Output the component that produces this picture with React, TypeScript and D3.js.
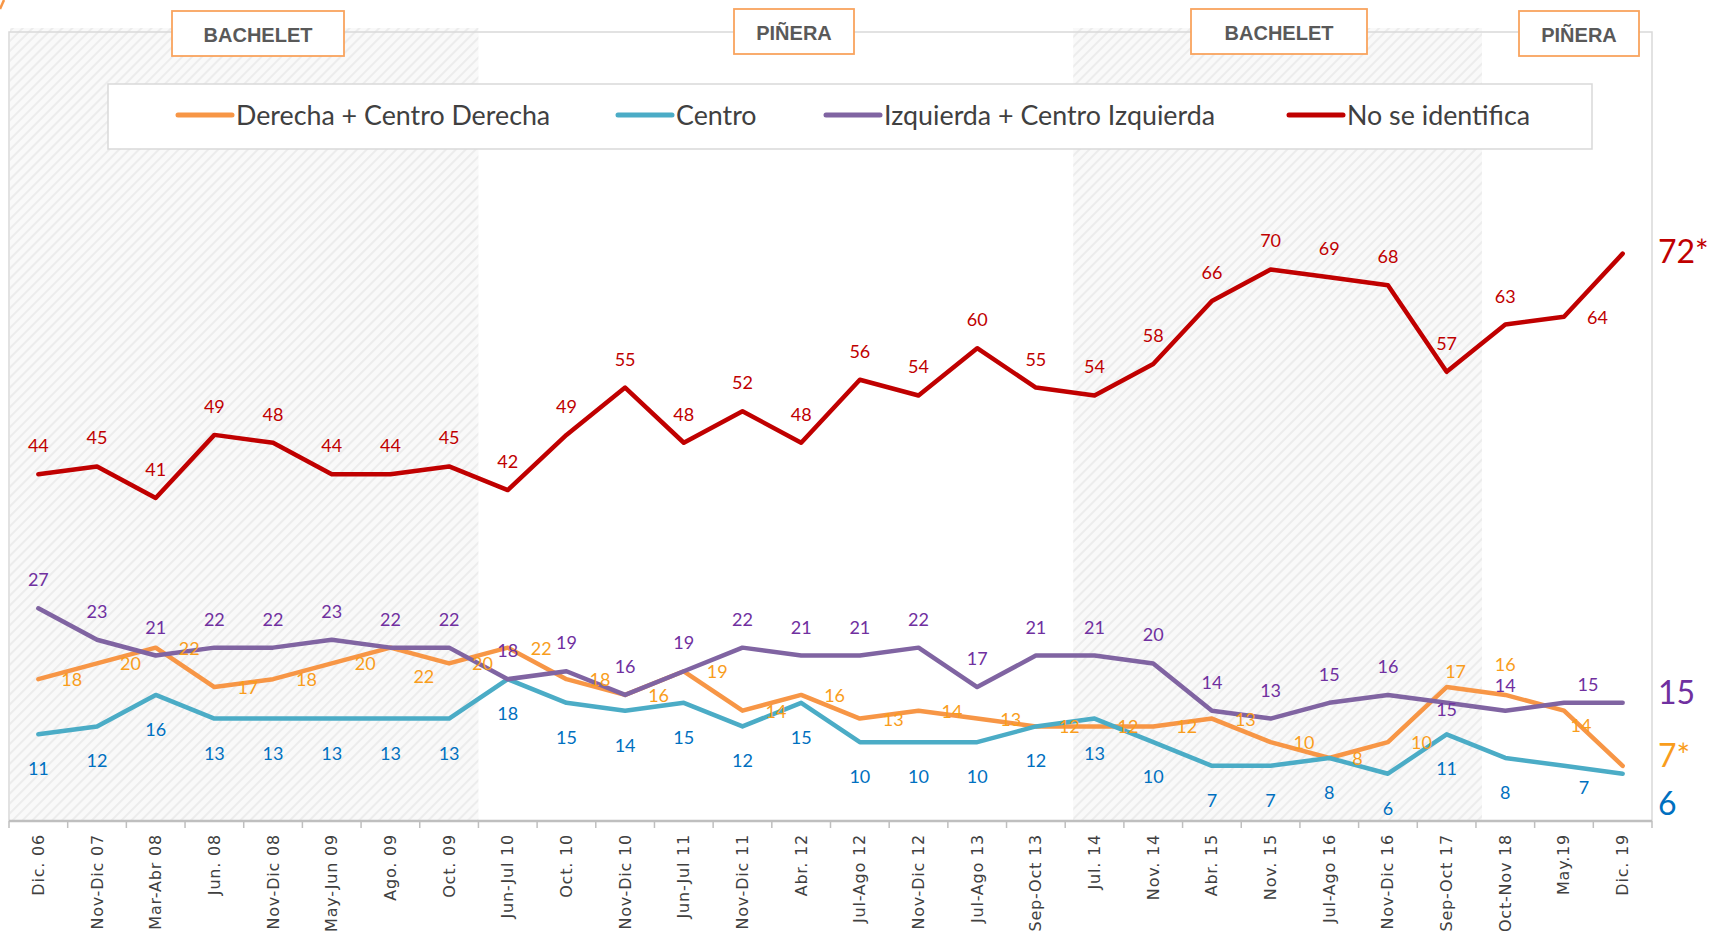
import React from 'react';
import * as d3 from 'd3';

const categories = [
  'Dic. 06', 'Nov-Dic 07', 'Mar-Abr 08', 'Jun. 08', 'Nov-Dic 08', 'May-Jun 09', 'Ago. 09', 'Oct. 09',
  'Jun-Jul 10', 'Oct. 10', 'Nov-Dic 10', 'Jun-Jul 11', 'Nov-Dic 11', 'Abr. 12', 'Jul-Ago 12', 'Nov-Dic 12',
  'Jul-Ago 13', 'Sep-Oct 13', 'Jul. 14', 'Nov. 14', 'Abr. 15', 'Nov. 15', 'Jul-Ago 16', 'Nov-Dic 16',
  'Sep-Oct 17', 'Oct-Nov 18', 'May.19', 'Dic. 19',
];

const derecha = [18, 20, 22, 17, 18, 20, 22, 20, 22, 18, 16, 19, 14, 16, 13, 14, 13, 12, 12, 12, 13, 10, 8, 10, 17, 16, 14, 7];
const centro = [11, 12, 16, 13, 13, 13, 13, 13, 18, 15, 14, 15, 12, 15, 10, 10, 10, 12, 13, 10, 7, 7, 8, 6, 11, 8, 7, 6];
const izquierda = [27, 23, 21, 22, 22, 23, 22, 22, 18, 19, 16, 19, 22, 21, 21, 22, 17, 21, 21, 20, 14, 13, 15, 16, 15, 14, 15, 15];
const noIdentifica = [44, 45, 41, 49, 48, 44, 44, 45, 42, 49, 55, 48, 52, 48, 56, 54, 60, 55, 54, 58, 66, 70, 69, 68, 57, 63, 64, 72];

const seriesNames = ['Derecha + Centro Derecha', 'Centro', 'Izquierda + Centro Izquierda', 'No se identifica'];
const endLabels = ['7*', '6', '15', '72*'];

// label placement codes per point ('x' = none, last point uses the end label)
const derechaPos = ['r','r','r','r','r','r','rb','r','r','r','r','r','r','r','r','r','r','r','r','r','r','r','r','r','nne','a2','se','x'];
const centroPos = ['b','b','b','b','b','b','b','b','b','b','b','b','b','b','b','b','b','b','b','b','b','b','b','b','b','b','se2','x'];
const izquierdaPos = ['a','a','a','a','a','a','a','a','a','a','a','a','a','a','a','a','a','a','a','a','a','a','a','a','c','a3','ne','x'];
const noIdentificaPos = ['a','a','a','a','a','a','a','a','a','a','a','a','a','a','a','a','a','a','a','a','a','a','a','a','a','a','r','x'];

const periodLabels = ['BACHELET', 'PIÑERA', 'BACHELET', 'PIÑERA'];

const W = 1713;
const H = 933;
const X0 = 9;
const X1 = 1652;
const YTOP = 33;
const YBOT = 821;

const lineColors = ['#F79646', '#4BACC6', '#8064A2', '#C00000'];
const labelColors = ['#F99D1C', '#0070C0', '#7030A0', '#C00000'];
const labelFont = "Lato, 'Open Sans', sans-serif";

const placements: Record<string, { dx: number; dy: number; anchor: string }> = {
  a: { dx: 0, dy: -29, anchor: 'middle' },
  a2: { dx: 0, dy: -31, anchor: 'middle' },
  a3: { dx: 0, dy: -26, anchor: 'middle' },
  b: { dx: 0, dy: 34, anchor: 'middle' },
  r: { dx: 23, dy: 0, anchor: 'start' },
  rb: { dx: 23, dy: 28, anchor: 'start' },
  c: { dx: 0, dy: 6, anchor: 'middle' },
  nne: { dx: 9, dy: -16, anchor: 'middle' },
  se: { dx: 17, dy: 14, anchor: 'middle' },
  se2: { dx: 20, dy: 21, anchor: 'middle' },
  ne: { dx: 24, dy: -19, anchor: 'middle' },
};

// layout of annotation boxes: [x, y, w, h]
const periodBoxes = [
  [172, 11, 172, 45],
  [734, 9, 120, 45],
  [1191, 9, 176, 45],
  [1519, 11, 120, 45],
];
const legendX = [178, 618, 826, 1289];
const endLabelDy = [-11, 29, -11, -3];

export default function App() {
  const x = d3.scaleBand<string>().domain(categories).range([X0, X1]);
  const bw = x.bandwidth();
  const cx = (i: number) => (x(categories[i]) as number) + bw / 2;
  const y = d3.scaleLinear().domain([0, 100]).range([YBOT, YTOP]);

  const allSeries = [derecha, centro, izquierda, noIdentifica];
  const allPos = [derechaPos, centroPos, izquierdaPos, noIdentificaPos];

  const line = d3
    .line<number>()
    .x((_, i) => cx(i))
    .y((d) => y(d));

  const shade = [
    [X0 + 1, (x(categories[8]) as number)],
    [(x(categories[18]) as number) + 8, (x(categories[25]) as number) + 6],
  ];

  const ticks = categories.map((c) => x(c) as number).concat([X1]);

  return (
    <svg
      width={W}
      height={H}
      style={{ position: 'absolute', left: 0, top: 0, display: 'block', background: '#fff' }}
    >
      <defs>
        <pattern id="hatch" width="7" height="7" patternUnits="userSpaceOnUse" patternTransform="rotate(45)">
          <rect width="7" height="7" fill="#F9F9F9" />
          <line x1="1" y1="0" x2="1" y2="7" stroke="#ECECEC" strokeWidth="2" />
        </pattern>
      </defs>
      <rect x={0} y={0} width={W} height={H} fill="#fff" />
      <path d="M0,9 L4,0" stroke="#F79646" strokeWidth={2.5} fill="none" />

      {/* shaded periods */}
      {shade.map(([a, b], i) => (
        <rect key={i} x={a} y={28} width={b - a} height={YBOT - 28} fill="url(#hatch)" />
      ))}

      {/* plot border */}
      <path
        d={`M${X0},${YBOT} L${X0},${32} L${X1},${32} L${X1},${YBOT}`}
        fill="none"
        stroke="#D9D9D9"
        strokeWidth={1.5}
      />

      {/* x axis */}
      <line x1={X0} x2={X1} y1={YBOT} y2={YBOT} stroke="#BFBFBF" strokeWidth={2.5} />
      {ticks.map((t, i) => (
        <line key={i} x1={t} x2={t} y1={YBOT} y2={YBOT + 7} stroke="#BFBFBF" strokeWidth={1.5} />
      ))}
      {categories.map((c, i) => (
        <text
          key={c}
          transform={`translate(${cx(i)},834) rotate(-90)`}
          textAnchor="end"
          dominantBaseline="central"
          fontFamily="'DejaVu Sans', Verdana, sans-serif"
          fontSize={16}
          letterSpacing={0.8}
          fill="#404040"
        >
          {c}
        </text>
      ))}

      {/* legend */}
      <rect x={108} y={84} width={1484} height={65} fill="#fff" stroke="#D9D9D9" strokeWidth={1.5} />
      {seriesNames.map((n, i) => (
        <g key={n}>
          <line
            x1={legendX[i]}
            x2={legendX[i] + 54}
            y1={115}
            y2={115}
            stroke={lineColors[i]}
            strokeWidth={5}
            strokeLinecap="round"
          />
          <text
            x={legendX[i] + 58}
            y={115}
            dominantBaseline="central"
            fontFamily={labelFont}
            fontSize={26.8}
            fill="#404040"
          >
            {n}
          </text>
        </g>
      ))}

      {/* lines */}
      {allSeries.map((s, i) => (
        <path
          key={i}
          d={line(s) as string}
          fill="none"
          stroke={lineColors[i]}
          strokeWidth={4.5}
          strokeLinejoin="round"
          strokeLinecap="round"
        />
      ))}

      {/* data labels */}
      {allSeries.map((s, si) =>
        s.map((v, i) => {
          const code = allPos[si][i];
          if (code === 'x') return null;
          const p = placements[code];
          return (
            <text
              key={`${si}-${i}`}
              x={cx(i) + p.dx}
              y={y(v) + p.dy}
              textAnchor={p.anchor}
              dominantBaseline="central"
              fontFamily={labelFont}
              fontSize={18}
              fill={labelColors[si]}
            >
              {v}
            </text>
          );
        })
      )}

      {/* end labels */}
      {allSeries.map((s, si) => (
        <text
          key={`end-${si}`}
          x={1658}
          y={y(s[s.length - 1]) + endLabelDy[si]}
          dominantBaseline="central"
          fontFamily={labelFont}
          fontSize={32}
          fill={labelColors[si]}
        >
          {endLabels[si]}
        </text>
      ))}

      {/* period boxes */}
      {periodLabels.map((p, i) => {
        const [bx, by, w, h] = periodBoxes[i];
        return (
          <g key={i}>
            <rect x={bx} y={by} width={w} height={h} fill="#fff" stroke="#F9A45E" strokeWidth={1.8} />
            <text
              x={bx + w / 2}
              y={by + h / 2 + 1}
              textAnchor="middle"
              dominantBaseline="central"
              fontFamily="'Liberation Sans', Arial, sans-serif"
              fontWeight="bold"
              fontSize={20}
              fill="#595959"
            >
              {p}
            </text>
          </g>
        );
      })}
    </svg>
  );
}
